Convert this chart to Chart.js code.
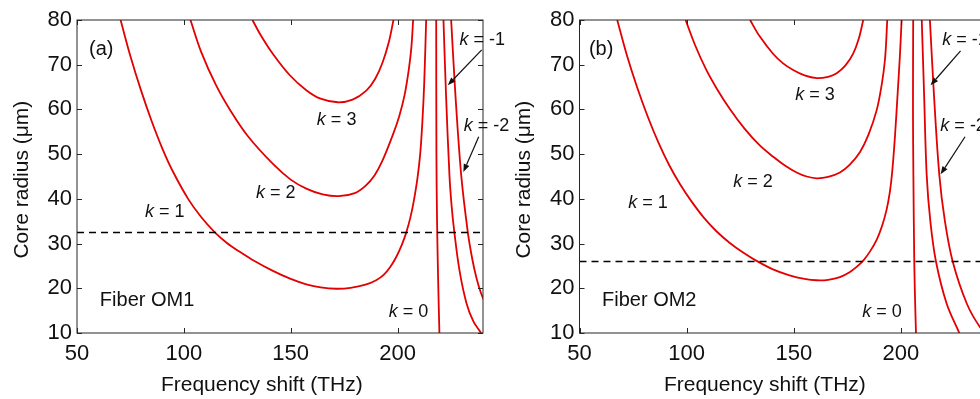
<!DOCTYPE html>
<html>
<head>
<meta charset="utf-8">
<script src="https://cdn.jsdelivr.net/npm/chart.js@4.4.1/dist/chart.umd.min.js"></script>
<style>
  html, body { margin: 0; padding: 0; background: #fff; overflow: hidden; }
  #wrap { position: relative; width: 980px; height: 399px; overflow: hidden; }
  #left { position: absolute; left: 0; top: 0; }
  #right { position: absolute; left: 500px; top: 0; }
</style>
</head>
<body>
<div id="wrap">
  <canvas id="left" width="520" height="399"></canvas>
  <canvas id="right" width="500" height="399"></canvas>
</div>
<script>
// axis ticks (both panels)
const xTicks = [50, 100, 150, 200];
const yTicks = [10, 20, 30, 40, 50, 60, 70, 80];

// (a) Fiber OM1 : [frequency shift THz, core radius um]
const om1K3 = [[132.1, 80], [136, 76.6], [141.7, 72.4], [149.5, 67.7], [157.3, 64.3], [164, 62.4], [172, 61.6], [179, 62.2], [185.4, 64.2], [189.5, 66.8], [193, 70.5], [196, 75.2], [198.1, 80]];
const om1K2 = [[103.1, 80], [108, 73.0], [115, 65.5], [122, 59.6], [130, 54.0], [141.7, 47.8], [150, 44.3], [157.3, 42.3], [165, 41.0], [172.5, 40.6], [180, 41.3], [185, 42.9], [189.3, 45.3], [193, 48.6], [197.8, 54.3], [200.8, 58.5], [203.3, 63.2], [205.3, 69], [206.5, 74], [207.3, 80]];
const om1K1 = [[70.4, 80], [75, 71.9], [80, 64.2], [85, 57.3], [90, 51.2], [95, 46.0], [102, 40], [108, 36.0], [114.5, 32.5], [120, 30.2], [126, 28.2], [132, 26.4], [141.7, 23.9], [150, 22.1], [157.3, 20.9], [164, 20.2], [171.4, 19.9], [178, 20.1], [185, 20.8], [190, 21.8], [193.5, 23.0], [196.5, 24.7], [199.4, 27.0], [202, 29.7], [204.1, 32.5], [206, 35.8], [207.5, 39.2], [209.3, 44.5], [210.6, 50], [211.6, 57], [212.5, 66], [213.4, 80]];
const om1K0 = [[218.1, 80], [218.2, 50], [218.5, 35], [219, 22], [219.6, 10]];
const om1Km1 = [[221.5, 80], [222.7, 63.2], [224.3, 45.3], [225.3, 38.5], [226.6, 32.5], [229, 24], [232.3, 16.6], [235.5, 12.6], [239.1, 10]];
const om1Km2 = [[225.1, 80], [227.1, 63.2], [229.8, 45.3], [232.9, 32.5], [235, 26.5], [237, 22.2], [239, 19], [240.5, 17.3]];
const om1Cut = 32.5;

// (b) Fiber OM2
const om2K3 = [[129.6, 80], [134, 76.4], [140.4, 72.4], [145, 70.3], [149.7, 68.8], [155, 67.6], [160.7, 67.0], [166, 67.3], [170, 68.1], [174, 69.8], [177.7, 72.5], [180.3, 75.8], [182.4, 80]];
const om2K2 = [[99.5, 80], [104, 74.3], [109, 69.0], [114, 64.7], [120, 60.2], [127, 55.7], [134, 52.0], [140.4, 49.4], [146, 47.4], [151.3, 45.9], [156, 45.0], [160.7, 44.6], [166, 44.9], [171.5, 45.9], [176, 47.6], [180.9, 50.5], [184.8, 54.3], [188.7, 59.9], [191, 65.5], [192.6, 71.5], [193.6, 80]];
const om2K1 = [[67.6, 80], [72, 72.3], [77, 64.8], [82, 58.2], [87, 52.4], [92, 47.4], [97, 43.2], [102, 39.6], [108, 35.8], [114, 32.7], [120, 30.2], [126, 28.1], [132, 26.3], [140, 24.3], [148, 22.9], [155, 22.1], [160.7, 21.8], [166, 21.9], [171.5, 22.5], [176, 23.6], [179.3, 24.8], [182.4, 26.2], [185.5, 28.2], [188.7, 30.9], [191.2, 34.0], [193.3, 37.6], [194.8, 41.5], [195.9, 46], [197.2, 54], [198.5, 64], [199.5, 72], [200.3, 80]];
const om2K0 = [[205.7, 80], [205.6, 60], [205.8, 45], [206.2, 26], [206.6, 17], [207, 10]];
const om2Km1 = [[209.7, 80], [210.8, 63.2], [212, 45.3], [213.7, 35], [216.3, 26.05], [221.3, 16.6], [227.2, 10]];
const om2Km2 = [[213.5, 80], [215.4, 63.2], [217.9, 45.3], [220.5, 35], [224.1, 26.05], [230.7, 16.6], [236.9, 11.3], [241, 9.5]];
const om2Cut = 26;

const FONT = "'Liberation Sans', Arial, sans-serif";
const RED = 'rgb(228, 0, 0)';
const INK = '#111';

// text / arrows, placed in data units
const om1Notes = {
  tag: '(a)', tagAt: [55.6, 73.3],
  fiber: 'Fiber OM1', fiberAt: [60.7, 17.3],
  kLabels: [['1', 91.1, 37.0], ['2', 143, 41.3], ['3', 171.5, 57.6], ['0', 205.1, 14.6], ['-1', 239.7, 75.5], ['-2', 241.6, 56.3]],
  arrows: [[239.4, 73.3, 223.5, 65.4], [238.0, 53.9, 230.8, 46.0]]
};
const om2Notes = {
  tag: '(b)', tagAt: [54.4, 73.3],
  fiber: 'Fiber OM2', fiberAt: [60.5, 17.3],
  kLabels: [['1', 82.0, 39.0], ['2', 131.0, 43.7], ['3', 159.9, 63.2], ['0', 191.2, 14.6], ['-1', 229.9, 75.5], ['-2', 229.0, 56.3]],
  arrows: [[227.8, 73.1, 213.8, 65.4], [229.9, 53.9, 218.5, 45.5]]
};

function kText(ctx, val, cx, cy) {
  ctx.font = 'italic 18px ' + FONT;
  const w1 = ctx.measureText('k').width;
  ctx.font = '18px ' + FONT;
  const rest = ' = ' + val;
  const w2 = ctx.measureText(rest).width;
  let x = cx - (w1 + w2) / 2;
  ctx.textAlign = 'left';
  ctx.textBaseline = 'middle';
  ctx.font = 'italic 18px ' + FONT;
  ctx.fillText('k', x, cy);
  ctx.font = '18px ' + FONT;
  ctx.fillText(rest, x + w1, cy);
}

function arrow(ctx, x1, y1, x2, y2) {
  const a = Math.atan2(y2 - y1, x2 - x1);
  const len = 8, half = 3;
  ctx.beginPath();
  ctx.moveTo(x1, y1);
  ctx.lineTo(x2 - Math.cos(a) * len, y2 - Math.sin(a) * len);
  ctx.lineWidth = 1.2;
  ctx.strokeStyle = INK;
  ctx.stroke();
  ctx.beginPath();
  ctx.moveTo(x2, y2);
  ctx.lineTo(x2 - Math.cos(a) * len - Math.sin(a) * half, y2 - Math.sin(a) * len + Math.cos(a) * half);
  ctx.lineTo(x2 - Math.cos(a) * len + Math.sin(a) * half, y2 - Math.sin(a) * len - Math.cos(a) * half);
  ctx.closePath();
  ctx.fillStyle = INK;
  ctx.fill();
}

const framePlugin = {
  id: 'frame',
  afterDatasetsDraw(chart, args, opts) {
    const {ctx, chartArea: ca, scales: {x, y}} = chart;
    const notes = opts.notes;
    ctx.save();
    // box + inward ticks
    ctx.strokeStyle = '#262626';
    ctx.lineWidth = 1;
    ctx.strokeRect(ca.left, ca.top, ca.right - ca.left, ca.bottom - ca.top);
    ctx.beginPath();
    xTicks.forEach(v => {
      const px = Math.round(x.getPixelForValue(v)) + 0.5;
      ctx.moveTo(px, ca.bottom); ctx.lineTo(px, ca.bottom - 5);
      ctx.moveTo(px, ca.top); ctx.lineTo(px, ca.top + 5);
    });
    yTicks.forEach(v => {
      const py = Math.round(y.getPixelForValue(v)) + 0.5;
      ctx.moveTo(ca.left, py); ctx.lineTo(ca.left + 5, py);
      ctx.moveTo(ca.right, py); ctx.lineTo(ca.right - 5, py);
    });
    ctx.stroke();

    // axis titles
    ctx.fillStyle = INK;
    ctx.font = '21px ' + FONT;
    ctx.textAlign = 'center';
    ctx.textBaseline = 'middle';
    ctx.fillText('Frequency shift (THz)', x.getPixelForValue(136.5), 385);
    ctx.save();
    ctx.translate(ca.left - 55, y.getPixelForValue(44.3));
    ctx.rotate(-Math.PI / 2);
    ctx.fillText('Core radius (\u03bcm)', 0, 0);
    ctx.restore();

    // panel tag and fiber name
    ctx.font = '20px ' + FONT;
    ctx.textAlign = 'left';
    ctx.fillText(notes.tag, x.getPixelForValue(notes.tagAt[0]), y.getPixelForValue(notes.tagAt[1]));
    ctx.fillText(notes.fiber, x.getPixelForValue(notes.fiberAt[0]), y.getPixelForValue(notes.fiberAt[1]));

    notes.kLabels.forEach(([k, vx, vy]) => kText(ctx, k, x.getPixelForValue(vx), y.getPixelForValue(vy)));
    notes.arrows.forEach(([x1, y1, x2, y2]) => arrow(ctx,
      x.getPixelForValue(x1), y.getPixelForValue(y1), x.getPixelForValue(x2), y.getPixelForValue(y2)));
    ctx.restore();
  }
};

function curve(pts) {
  return {
    data: pts.map(([x, y]) => ({x, y})),
    showLine: true,
    borderColor: RED,
    borderWidth: 1.8,
    pointRadius: 0,
    tension: 0.35,
    fill: false
  };
}

function makeChart(id, curves, cut, notes, yWidth, padRight) {
  const datasets = curves.map(curve);
  datasets.unshift({
    data: [{x: 50, y: cut}, {x: 240, y: cut}],
    showLine: true,
    borderColor: '#000',
    borderWidth: 1.5,
    borderDash: [7, 5],
    pointRadius: 0
  });
  return new Chart(document.getElementById(id), {
    type: 'scatter',
    data: {datasets},
    options: {
      responsive: false,
      animation: false,
      events: [],
      elements: {line: {capBezierPoints: false}},
      layout: {padding: {left: 0, top: 20, right: padRight, bottom: 0}},
      plugins: {legend: {display: false}, tooltip: {enabled: false}, frame: {notes}},
      scales: {
        x: {
          type: 'linear', min: 50, max: 240,
          grid: {display: false, drawTicks: false}, border: {display: false},
          ticks: {font: {size: 22, family: FONT}, color: INK, padding: 8, maxRotation: 0, autoSkip: false},
          afterBuildTicks: a => { a.ticks = xTicks.map(v => ({value: v})); },
          afterFit: a => { a.height = 66; }
        },
        y: {
          type: 'linear', min: 10, max: 80,
          grid: {display: false, drawTicks: false}, border: {display: false},
          ticks: {font: {size: 22, family: FONT}, color: INK, padding: 5, autoSkip: false},
          afterBuildTicks: a => { a.ticks = yTicks.map(v => ({value: v})); },
          afterFit: a => { a.width = yWidth; }
        }
      }
    },
    plugins: [framePlugin]
  });
}

makeChart('left', [om1K3, om1K2, om1K1, om1K0, om1Km1, om1Km2], om1Cut, om1Notes, 77, 37);
makeChart('right', [om2K3, om2K2, om2K1, om2K0, om2Km1, om2Km2], om2Cut, om2Notes, 79.5, 13.3);
</script>
</body>
</html>
